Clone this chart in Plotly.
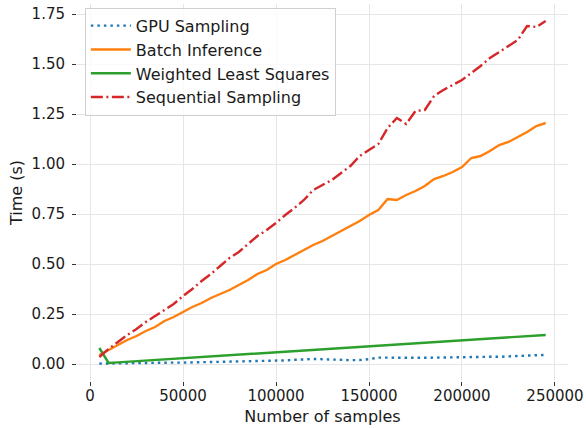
import plotly.graph_objects as go

samples = [5000, 10000, 15000, 20000, 25000, 30000, 35000, 40000, 45000, 50000,
           55000, 60000, 65000, 70000, 75000, 80000, 85000, 90000, 95000, 100000,
           105000, 110000, 115000, 120000, 125000, 130000, 135000, 140000, 145000, 150000,
           155000, 160000, 165000, 170000, 175000, 180000, 185000, 190000, 195000, 200000,
           205000, 210000, 215000, 220000, 225000, 230000, 235000, 240000, 245000]

gpu_sampling = [0.002, 0.003, 0.004, 0.004, 0.005, 0.005, 0.006, 0.006, 0.007, 0.007,
                0.008, 0.008, 0.009, 0.010, 0.010, 0.011, 0.012, 0.013, 0.014, 0.016,
                0.018, 0.021, 0.024, 0.025, 0.024, 0.022, 0.020, 0.019, 0.020, 0.024,
                0.032, 0.031, 0.030, 0.030, 0.031, 0.031, 0.032, 0.033, 0.034, 0.036,
                0.037, 0.037, 0.036, 0.036, 0.037, 0.039, 0.042, 0.044, 0.045]

batch_inference = [0.045, 0.070, 0.095, 0.120, 0.140, 0.165, 0.185, 0.215, 0.235, 0.260,
                   0.285, 0.305, 0.330, 0.350, 0.370, 0.395, 0.420, 0.450, 0.470, 0.500,
                   0.520, 0.545, 0.570, 0.595, 0.615, 0.640, 0.665, 0.690, 0.715, 0.745,
                   0.770, 0.825, 0.820, 0.845, 0.865, 0.890, 0.925, 0.940, 0.960, 0.985,
                   1.030, 1.040, 1.065, 1.095, 1.110, 1.135, 1.160, 1.190, 1.205]

weighted_least_squares = [0.080, 0.005, 0.008, 0.011, 0.014, 0.017, 0.020, 0.023, 0.026, 0.029,
                          0.032, 0.035, 0.038, 0.041, 0.044, 0.047, 0.050, 0.053, 0.056, 0.059,
                          0.062, 0.065, 0.068, 0.071, 0.074, 0.077, 0.080, 0.083, 0.086, 0.089,
                          0.092, 0.095, 0.098, 0.101, 0.104, 0.107, 0.110, 0.113, 0.116, 0.119,
                          0.122, 0.125, 0.128, 0.131, 0.134, 0.137, 0.140, 0.142, 0.145]

sequential_sampling = [0.035, 0.075, 0.110, 0.145, 0.175, 0.210, 0.240, 0.270, 0.300, 0.340,
                       0.375, 0.415, 0.450, 0.490, 0.530, 0.560, 0.600, 0.640, 0.670, 0.705,
                       0.745, 0.780, 0.820, 0.870, 0.895, 0.920, 0.955, 0.990, 1.040, 1.070,
                       1.100, 1.180, 1.230, 1.200, 1.265, 1.270, 1.340, 1.370, 1.395, 1.420,
                       1.455, 1.490, 1.530, 1.560, 1.590, 1.620, 1.690, 1.685, 1.715]

x_ticks = [0, 50000, 100000, 150000, 200000, 250000]
x_tick_labels = ["0", "50000", "100000", "150000", "200000", "250000"]
y_ticks = [0, 0.25, 0.5, 0.75, 1.0, 1.25, 1.5, 1.75]
y_tick_labels = ["0.00", "0.25", "0.50", "0.75", "1.00", "1.25", "1.50", "1.75"]

series = [
    ("GPU Sampling", gpu_sampling, "#1f77b4", "2.5px,4px"),
    ("Batch Inference", batch_inference, "#ff7f0e", "solid"),
    ("Weighted Least Squares", weighted_least_squares, "#2ca02c", "solid"),
    ("Sequential Sampling", sequential_sampling, "#d62728", "12px,3.5px,2px,3.5px"),
]

fig = go.Figure()
for name, vals, color, dash in series:
    fig.add_trace(go.Scatter(x=samples, y=vals, mode="lines", name=name, legendgroup=name,
                             line=dict(color=color, width=2.4, dash=dash)))

tick_font = dict(family="DejaVu Sans", size=15, color="#1a1a1a")
label_font = dict(family="DejaVu Sans", size=16, color="#1a1a1a")
fig.update_layout(
    width=586, height=428,
    margin=dict(l=77, r=18, t=4, b=47, autoexpand=False),
    paper_bgcolor="white", plot_bgcolor="white",
    font=tick_font,
    showlegend=True,
    legend=dict(x=0.016, y=0.99, xanchor="left", yanchor="top",
                bgcolor="rgba(255,255,255,0.8)", bordercolor="#d0d0d0", borderwidth=1,
                font=label_font, tracegroupgap=0, itemwidth=40),
)
fig.update_xaxes(range=[-7000, 257000], tickvals=x_ticks, ticktext=x_tick_labels,
                 showgrid=True, gridcolor="#e6e6e6", gridwidth=1, zeroline=False,
                 showline=False, ticks="outside", ticklen=4, tickcolor="#333333",
                 tickfont=tick_font, automargin=False, ticklabelstandoff=-3,
                 title=dict(text="Number of samples", font=label_font, standoff=6))
fig.update_yaxes(range=[-0.085, 1.80], tickvals=y_ticks, ticktext=y_tick_labels,
                 showgrid=True, gridcolor="#e6e6e6", gridwidth=1, zeroline=False,
                 showline=False, ticks="outside", ticklen=4, tickcolor="#333333",
                 tickfont=tick_font, automargin=False, ticklabelstandoff=4,
                 title=dict(text="Time (s)", font=label_font, standoff=4))

fig.write_html("out.html", config={"displayModeBar": False},
               post_script="document.body.style.margin='0';")
